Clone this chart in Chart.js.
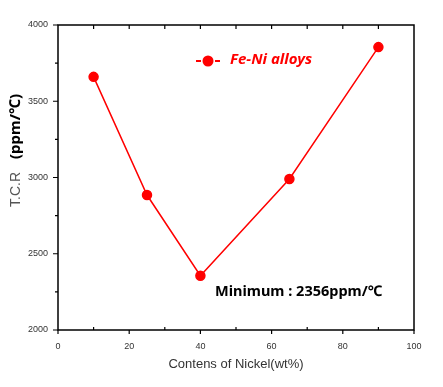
<!DOCTYPE html>
<html>
<head>
<meta charset="utf-8">
<script src="https://cdn.jsdelivr.net/npm/chart.js@4.4.1/dist/chart.umd.min.js"></script>
<style>
  html, body { margin: 0; padding: 0; background: #fff; }
  #wrap { width: 443px; height: 387px; }
</style>
</head>
<body>
<div id="wrap"><canvas id="myChart"></canvas></div>
<script>
// ================= Data =================
const nickel = [10, 25, 40, 65, 90];
const tcr = [3660, 2885, 2356, 2990, 3855];
const xTicks = [0, 20, 40, 60, 80, 100];
const yTicks = [2000, 2500, 3000, 3500, 4000];
const seriesName = 'Fe-Ni alloys';
const note = 'Minimum : 2356ppm/\u2103';

// ================= Frame, ticks, titles =================
const decor = {
  id: 'decor',
  afterDraw(chart) {
    const c = chart.ctx;
    const a = chart.chartArea;
    const xs = chart.scales.x, ys = chart.scales.y;
    c.save();
    c.strokeStyle = '#000';
    c.lineWidth = 1.5;
    c.strokeRect(a.left, a.top, a.right - a.left, a.bottom - a.top);

    c.lineWidth = 1.2;
    c.beginPath();
    for (let v = 0; v <= 100; v += 10) {
      const px = xs.getPixelForValue(v);
      if (v % 20 === 0) { c.moveTo(px, a.bottom); c.lineTo(px, a.bottom + 4); }
      else { c.moveTo(px, a.bottom); c.lineTo(px, a.bottom - 3); }
      if (v > 0 && v < 100) { c.moveTo(px, a.top); c.lineTo(px, a.top + 4); }
    }
    for (let v = 2000; v <= 4000; v += 250) {
      const py = ys.getPixelForValue(v);
      c.moveTo(a.left, py);
      c.lineTo(a.left - (v % 500 === 0 ? 5 : 3), py);
    }
    c.stroke();

    // y title
    c.translate(16, 207);
    c.rotate(-Math.PI / 2);
    c.textBaseline = 'middle';
    c.textAlign = 'left';
    c.fillStyle = '#555';
    c.font = '14px "Liberation Sans", Arial, sans-serif';
    c.fillText('T.C.R', 0, 0);
    c.fillStyle = '#000';
    c.font = 'bold 15px "Noto Sans", sans-serif';
    c.fillText('(ppm/\u2103)', 48, 0);
    c.setTransform(1, 0, 0, 1, 0, 0);

    // legend
    c.strokeStyle = '#ff0000';
    c.fillStyle = '#ff0000';
    c.lineWidth = 2;
    c.beginPath();
    c.moveTo(196, 61); c.lineTo(201, 61);
    c.moveTo(215, 61); c.lineTo(220, 61);
    c.stroke();
    c.beginPath();
    c.arc(208, 61, 5.5, 0, Math.PI * 2);
    c.fill();
    c.font = 'italic bold 15px "Noto Sans", sans-serif';
    c.textBaseline = 'middle';
    c.fillText(seriesName, 230, 60);

    // annotation
    c.fillStyle = '#000';
    c.font = 'bold 14.5px "Noto Sans", sans-serif';
    c.fillText(note, 215, 292);
    c.restore();
  }
};

new Chart(document.getElementById('myChart'), {
  type: 'line',
  data: {
    datasets: [{
      label: seriesName,
      data: nickel.map((x, i) => ({ x: x, y: tcr[i] })),
      borderColor: '#ff0000',
      backgroundColor: '#ff0000',
      borderWidth: 1.5,
      pointRadius: 4.5,
      pointHoverRadius: 4.5,
      tension: 0
    }]
  },
  options: {
    responsive: true,
    maintainAspectRatio: false,
    animation: false,
    layout: { padding: { top: 25, right: 29, left: 0, bottom: 0 } },
    plugins: { legend: { display: false }, tooltip: { enabled: false } },
    scales: {
      x: {
        type: 'linear',
        min: 0, max: 100,
        afterBuildTicks: s => { s.ticks = xTicks.map(v => ({ value: v })); },
        afterFit: s => { s.height = 57; },
        grid: { display: false },
        border: { display: false },
        ticks: {
          padding: 3,
          color: '#333',
          font: { size: 9, family: '"Liberation Sans", Arial, sans-serif' },
          maxRotation: 0,
          callback: v => String(v)
        },
        title: {
          display: true,
          text: 'Contens of Nickel(wt%)',
          color: '#333',
          padding: { top: 2, bottom: 15 },
          font: { size: 13, family: '"Liberation Sans", Arial, sans-serif' }
        }
      },
      y: {
        min: 2000, max: 4000,
        afterBuildTicks: s => { s.ticks = yTicks.map(v => ({ value: v })); },
        afterFit: s => { s.width = 58; },
        grid: { display: false },
        border: { display: false },
        ticks: {
          padding: 2,
          color: '#333',
          font: { size: 9, family: '"Liberation Sans", Arial, sans-serif' },
          callback: v => String(v)
        }
      }
    }
  },
  plugins: [decor]
});
</script>
</body>
</html>
